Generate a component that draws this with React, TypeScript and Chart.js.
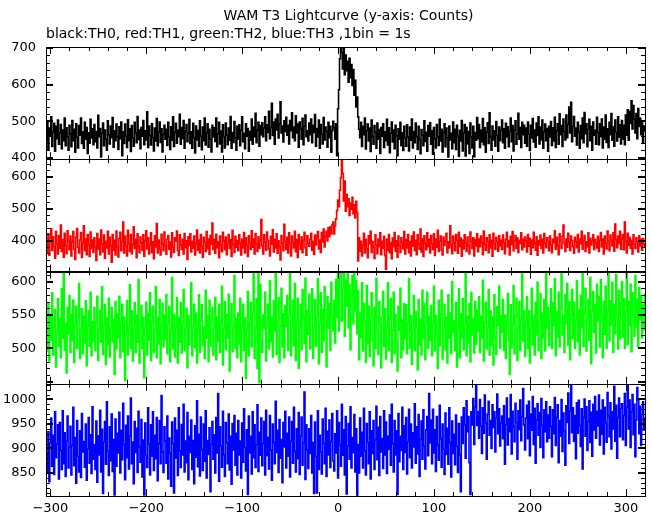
import React, { useEffect, useRef } from "react";
import { Chart, registerables } from "chart.js";

Chart.register(...registerables);

// ---- data (counts per 1 s bin) ----
const T0 = -304; // time of the first bin (s)
const BIN = 1; // bin width (s)
const X_MIN = -304.5;
const X_MAX = 320;

const TH0 = [
  448,497,423,481,459,512,431,470,494,418,486,452,503,437,468,491,425,476,447,509,433,482,458,421,489,
  466,430,502,447,478,415,493,456,427,488,462,509,439,471,426,497,451,483,412,468,440,505,454,479,436,
  491,444,472,427,516,458,480,402,467,495,433,476,450,421,501,463,438,487,455,510,429,474,447,492,458,
  423,485,452,498,406,471,439,492,460,428,504,447,479,417,488,455,432,497,468,441,513,450,476,425,483,
  459,502,436,474,449,526,428,487,461,435,493,455,419,481,446,507,433,470,498,442,479,416,464,489,451,
  478,434,497,457,423,485,448,512,431,469,494,440,476,458,519,437,483,452,502,426,474,491,444,467,505,
  439,471,426,494,455,413,487,449,475,432,501,460,422,484,447,509,435,468,493,429,478,451,416,489,457,
  482,445,509,430,466,497,438,473,416,490,458,427,495,462,436,481,448,513,426,469,442,499,455,421,486,
  451,490,433,476,512,444,467,425,493,459,480,418,472,448,506,437,484,458,522,441,475,497,432,488,463,
  496,458,481,512,447,490,469,527,452,483,549,461,498,437,506,476,519,454,492,553,468,487,443,501,472,
  511,462,489,438,502,474,523,455,484,447,515,468,492,429,498,479,451,508,436,487,517,458,474,446,495,
  463,506,441,489,469,518,432,480,457,503,426,491,465,438,510,449,484,472,429,497,455,486,415,474,500,
  482,451,493,406,534,586,671,702,688,643,699,627,681,638,664,607,672,619,655,598,641,571,612,539,566,
  512,478,455,497,431,486,463,509,424,474,492,446,481,417,503,458,437,488,469,426,495,451,477,412,483,
  459,493,428,471,447,505,435,482,414,467,498,443,476,425,489,460,406,479,451,497,433,468,420,486,455,
  432,490,457,419,484,448,506,427,472,441,495,458,423,486,450,411,477,462,433,501,445,470,418,488,459,
  496,437,474,410,483,452,427,491,458,434,505,446,478,416,469,493,430,481,455,402,487,449,467,425,498,
  441,478,423,489,460,404,475,446,502,419,468,491,405,483,438,472,412,495,457,427,486,403,469,448,510,
  452,491,428,476,443,507,436,482,415,470,496,439,523,458,421,487,449,474,432,499,461,418,484,447,476,
  503,441,479,426,494,457,485,430,472,509,444,488,419,476,501,437,466,522,451,483,428,497,463,489,440,
  481,432,498,465,420,489,454,507,443,476,429,495,461,512,438,484,449,503,426,471,492,447,480,418,486,
  457,499,434,482,446,511,428,474,493,437,520,463,488,431,506,472,449,517,455,491,539,468,552,444,486,
  513,459,481,435,497,470,426,488,452,509,441,524,466,493,430,478,505,447,486,421,498,462,475,437,511,
  469,436,493,458,506,427,484,451,517,442,479,428,497,463,521,448,485,432,503,470,446,512,457,490,438,
  502,451,489,436,517,462,531,448,527,494,556,479,543,507,468,521,452,535,486,509,463,498,440,487,474,
];

const TH1 = [
  397,362,421,354,408,437,369,412,381,345,428,390,358,415,376,449,366,403,348,423,384,359,431,398,371,
  414,352,396,428,373,341,411,438,379,361,402,425,347,393,446,369,405,356,419,387,350,427,375,402,363,
  409,381,338,422,374,405,356,433,389,364,417,345,398,377,429,358,410,384,332,419,370,401,355,430,380,
  349,406,426,368,397,458,361,414,383,352,432,391,366,419,359,388,443,375,404,346,421,381,362,411,393,
  370,418,351,399,431,374,409,358,387,424,363,396,343,415,380,453,361,402,372,355,420,390,368,427,383,
  357,404,416,373,395,349,424,381,363,409,398,430,369,353,418,387,372,404,358,422,378,399,341,412,385,
  421,364,398,376,414,355,391,433,370,402,361,419,382,348,410,394,366,428,374,405,357,416,389,455,372,
  404,360,420,378,396,346,414,385,365,426,399,371,411,356,394,419,375,403,350,432,388,363,413,379,400,
  368,418,392,355,404,377,425,361,409,386,350,415,394,372,431,379,405,358,422,388,366,412,376,401,466,
  383,358,418,395,370,427,401,374,352,413,389,434,364,404,377,421,360,399,381,339,416,392,368,451,397,
  372,410,361,424,389,352,414,394,377,429,365,403,347,419,390,373,411,362,400,426,378,354,415,391,382,
  404,423,370,398,357,417,386,410,428,374,402,363,425,396,436,380,413,429,399,440,412,443,421,449,458,
  421,447,468,494,527,506,558,598,653,611,524,587,492,545,506,531,479,518,498,536,484,512,471,523,488,
  336,409,367,398,352,384,423,361,404,375,346,415,390,429,363,397,379,344,418,386,359,405,381,424,356,
  398,376,413,353,310,404,369,419,362,394,343,408,381,425,367,399,348,414,385,363,409,395,374,428,358,
  403,377,419,362,397,352,414,383,427,369,401,356,418,388,373,436,364,405,350,415,392,371,424,381,404,
  361,416,391,372,421,353,405,379,432,366,398,414,370,355,411,385,399,423,362,396,377,446,388,359,414,
  393,368,419,401,360,426,381,408,351,402,374,418,392,366,411,384,358,427,398,375,409,352,403,383,421,
  365,405,381,414,393,356,430,387,370,409,398,362,418,377,401,351,423,390,372,410,396,367,415,383,402,
  372,417,393,359,404,426,380,400,355,413,387,428,368,399,416,376,408,363,401,391,424,371,404,380,411,
  398,364,419,382,407,357,402,378,426,392,370,412,354,400,386,417,375,404,361,422,393,378,409,397,368,
  414,386,362,404,393,431,373,410,384,356,421,398,375,413,449,391,366,405,379,423,395,369,414,400,381,
  360,410,397,378,419,364,404,390,429,373,401,416,366,396,380,424,361,407,386,399,418,372,404,392,377,
  413,366,401,425,380,405,358,414,391,374,430,397,368,417,400,383,424,367,452,403,378,414,391,429,373,
  406,419,371,458,397,361,423,385,410,376,401,358,418,389,375,409,396,364,415,383,404,370,406,390,379,
];

const TH2 = [
  534,496,568,481,549,512,583,490,531,558,472,527,574,503,545,486,589,515,614,497,538,463,561,522,579,
  494,551,511,572,479,536,563,500,546,597,485,527,559,492,548,508,571,474,533,556,503,584,489,540,511,
  561,497,540,578,482,528,557,509,592,491,535,566,476,546,505,575,487,530,561,510,543,461,570,499,552,
  516,578,486,539,566,495,547,452,521,571,490,533,595,500,556,481,529,568,494,550,509,603,478,536,564,
  500,547,456,533,569,490,553,512,583,482,540,563,494,528,592,486,546,507,573,477,535,567,502,550,513,
  580,492,538,562,480,527,606,499,551,487,531,576,478,546,509,568,493,537,588,497,529,560,471,549,505,
  541,598,489,533,566,501,553,478,527,580,494,541,565,504,532,485,587,515,549,480,572,503,538,561,490,
  530,576,483,547,510,566,494,537,593,475,529,570,498,551,515,581,466,540,567,495,531,609,500,545,486,
  553,507,575,480,533,566,497,546,455,527,585,489,538,569,502,553,613,485,531,574,470,614,448,596,513,
  494,550,530,584,481,538,566,499,601,510,547,487,571,526,614,491,541,576,479,533,590,502,552,486,564,
  532,579,497,550,614,489,530,572,504,597,482,543,575,470,531,566,498,588,545,507,605,480,556,521,581,
  499,552,589,485,533,573,503,546,604,477,538,583,494,558,511,592,545,472,577,530,567,497,599,549,526,
  571,508,603,546,614,526,607,615,541,590,613,518,602,563,614,531,596,498,580,609,537,614,556,601,522,
  586,483,553,516,598,496,567,540,479,594,507,563,488,546,583,513,474,561,500,605,527,491,570,536,471,
  548,585,503,559,484,530,598,497,545,574,479,528,584,492,551,509,466,563,527,590,486,543,498,567,514,
  565,492,538,604,500,549,476,527,579,497,555,530,468,573,505,544,490,587,516,567,483,536,584,500,548,
  512,564,489,537,593,496,549,521,470,572,504,551,587,484,530,566,498,547,478,580,515,553,492,600,524,
  541,497,569,472,528,589,486,552,516,574,498,536,614,489,548,508,567,480,584,520,545,493,570,506,557,
  526,577,494,548,515,602,481,539,569,499,531,588,490,556,505,547,475,580,518,491,562,534,593,500,549,
  524,573,497,550,485,541,582,513,461,565,501,537,594,492,548,575,482,530,570,497,544,614,511,556,488,
  537,577,500,556,478,532,590,505,548,490,569,520,599,497,538,582,485,553,516,573,496,612,531,561,504,
  549,589,500,568,534,604,489,555,517,584,502,561,614,520,549,494,580,537,597,505,570,483,550,588,515,
  569,500,543,601,510,558,490,579,532,614,503,552,590,496,545,573,512,606,477,556,585,524,566,493,596,
  541,578,502,603,549,486,570,521,593,500,558,614,511,571,535,599,494,565,522,610,546,499,587,514,568,
  600,517,574,500,555,614,506,570,534,596,495,583,549,518,609,532,574,502,591,543,579,516,566,528,581,
];

const TH3 = [
  889,851,934,832,911,962,864,927,847,975,881,909,948,838,953,896,857,977,869,932,843,915,966,860,903,
  945,846,906,984,865,922,829,957,884,852,936,841,971,893,914,862,950,835,899,963,870,928,849,985,878,
  908,857,956,831,926,887,978,852,939,808,913,955,868,995,894,845,944,875,970,853,918,805,960,864,931,
  891,974,850,937,877,992,908,836,947,881,966,858,925,1003,869,913,828,955,892,941,851,976,903,872,959,
  842,917,805,952,886,861,983,909,846,948,884,975,855,927,879,963,834,910,957,869,1008,893,851,944,915,
  870,966,838,921,890,823,954,910,809,962,880,937,845,983,895,861,949,887,990,852,915,871,973,836,925,
  892,958,857,916,828,946,882,997,863,929,844,964,898,855,950,874,977,840,916,888,942,812,908,955,878,
  928,850,963,891,1012,833,944,905,862,976,887,843,953,911,869,970,856,925,827,951,897,967,866,931,846,
  957,887,915,840,952,872,981,902,854,938,806,966,891,925,848,975,881,948,861,908,989,853,933,886,962,
  865,910,955,846,978,885,923,858,967,897,835,950,912,869,996,892,937,851,959,880,918,830,953,903,976,
  860,931,884,964,842,915,955,870,984,894,852,940,879,973,847,925,964,866,911,1015,837,948,897,859,940,
  890,967,850,912,808,954,884,809,977,857,927,893,848,960,910,869,982,843,935,887,958,861,914,971,875,
  854,930,891,977,840,953,908,864,990,886,938,846,965,807,906,951,878,985,860,922,892,969,852,940,805,
  908,850,962,884,933,860,982,895,846,951,912,869,975,838,936,890,957,857,917,986,877,943,845,965,893,
  920,859,977,887,954,849,925,898,968,866,990,910,852,957,887,936,806,971,873,925,896,984,857,946,892,
  963,848,914,980,881,950,860,932,903,991,870,944,889,969,843,919,956,878,979,905,858,938,965,885,1012,
  911,958,869,980,891,938,853,965,907,876,988,920,862,950,899,847,972,888,941,868,983,912,842,956,890,
  929,867,968,904,851,951,887,812,964,910,983,948,880,997,934,965,871,806,975,948,1002,908,984,1030,947,
  975,921,1000,946,890,983,931,1009,952,878,970,996,927,957,900,989,943,975,893,962,1011,930,981,905,952,
  966,920,987,868,949,1003,907,961,934,1010,889,976,945,914,992,953,878,977,939,999,916,965,1022,948,897,
  962,988,920,996,885,970,937,1006,908,982,870,958,991,927,973,902,1002,947,881,979,934,995,914,968,921,
  985,945,883,979,930,1004,906,963,989,871,957,925,1000,894,972,936,866,987,953,1013,910,976,1031,932,983,
  915,967,879,993,931,998,947,904,981,858,964,1001,925,985,896,955,997,912,974,884,990,938,1006,921,976,
  946,1009,907,978,929,999,889,984,952,913,1014,966,924,993,899,975,940,1027,915,988,880,963,1003,924,981,
  991,918,967,1012,906,984,1028,940,999,902,975,1010,928,990,883,958,1024,999,930,986,906,969,995,938,962,
];

const SERIES = [TH0, TH1, TH2, TH3];
const SERIES_NAMES = ["TH0", "TH1", "TH2", "TH3"];
const COLORS = ["#000000", "#ff0000", "#00ff00", "#0000ff"];
const PANEL_IDS = ["y0", "y1", "y2", "y3"];
const PANEL_MIN = [396, 303, 447, 803];
const PANEL_MAX = [703, 655, 615, 1032];
const Y_TICKS = [
  [400, 500, 600, 700],
  [400, 500, 600],
  [500, 550, 600],
  [850, 900, 950, 1000],
];
const Y_MAJOR = [100, 100, 50, 50];
const Y_MINOR = [20, 20, 10, 10];
const X_TICKS = [-300, -200, -100, 0, 100, 200, 300];
const X_MAJOR = 100;
const X_MINOR = 20;
const SEPARATOR_WIDTH = [1, 2, 1];

const TITLE = "WAM T3 Lightcurve (y-axis: Counts)";
const SUBTITLE = "black:TH0, red:TH1, green:TH2, blue:TH3 ,1bin = 1s";

const FONT_FAMILY = '"DejaVu Sans", Verdana, sans-serif';
const TICK_FONT = { family: FONT_FAMILY, size: 13 };

const fmt = (v: number) => (v < 0 ? "\u2212" + String(-v) : String(v));

const decorPlugin = {
  id: "decor",
  beforeDraw(chart: any) {
    const ctx = chart.ctx;
    ctx.save();
    ctx.fillStyle = "#ffffff";
    ctx.fillRect(0, 0, chart.width, chart.height);
    ctx.restore();
  },
  beforeDatasetDraw(chart: any, args: any) {
    const ds = chart.data.datasets[args.index];
    const ys = chart.scales[ds.yAxisID];
    const ca = chart.chartArea;
    const ctx = chart.ctx;
    ctx.save();
    ctx.beginPath();
    ctx.rect(ca.left, ys.top, ca.right - ca.left, ys.bottom - ys.top);
    ctx.clip();
  },
  afterDatasetDraw(chart: any) {
    chart.ctx.restore();
  },
  afterDraw(chart: any) {
    const ctx = chart.ctx;
    const ca = chart.chartArea;
    const xs = chart.scales.x;
    ctx.save();
    ctx.strokeStyle = "#000000";
    const seg = (x1: number, y1: number, x2: number, y2: number, w: number) => {
      ctx.lineWidth = w;
      ctx.beginPath();
      ctx.moveTo(x1, y1);
      ctx.lineTo(x2, y2);
      ctx.stroke();
    };
    PANEL_IDS.forEach((id, p) => {
      const ys = chart.scales[id];
      const top = ys.top;
      const bot = ys.bottom;
      // x ticks (inside, top and bottom of each panel)
      for (let v = Math.ceil(X_MIN / X_MINOR) * X_MINOR; v <= X_MAX; v += X_MINOR) {
        const px = Math.round(xs.getPixelForValue(v)) + 0.5;
        const major = v % X_MAJOR === 0;
        const len = major ? 7 : 4;
        seg(px, top, px, top + len, 1);
        seg(px, bot, px, bot - len, 1);
      }
      // y ticks (inside, left and right)
      const step = Y_MINOR[p];
      for (let v = Math.ceil(ys.min / step) * step; v <= ys.max; v += step) {
        const major = v % Y_MAJOR[p] === 0;
        const w = major ? 2 : 1;
        const py = major ? Math.round(ys.getPixelForValue(v)) : Math.round(ys.getPixelForValue(v)) + 0.5;
        const len = major ? 7 : 4;
        seg(ca.left, py, ca.left + len, py, w);
        seg(ca.right, py, ca.right - len, py, w);
      }
    });
    // panel separators
    for (let p = 0; p < 3; p++) {
      const ys = chart.scales[PANEL_IDS[p]];
      const w = SEPARATOR_WIDTH[p];
      const y = w % 2 ? Math.round(ys.bottom) + 0.5 : Math.round(ys.bottom);
      seg(ca.left, y, ca.right, y, w);
    }
    // outer frame
    ctx.lineWidth = 1;
    ctx.strokeRect(
      Math.round(ca.left) + 0.5,
      Math.round(ca.top) + 0.5,
      Math.round(ca.right) - Math.round(ca.left),
      Math.round(ca.bottom) - Math.round(ca.top)
    );
    // title + subtitle
    ctx.fillStyle = "#000000";
    ctx.font = `14px ${FONT_FAMILY}`;
    ctx.textBaseline = "alphabetic";
    ctx.textAlign = "center";
    ctx.fillText(TITLE, (ca.left + ca.right) / 2 + 3, 20);
    ctx.textAlign = "left";
    ctx.fillText(SUBTITLE, ca.left, 38);
    ctx.restore();
  },
};

function buildScales() {
  const scales: any = {
    x: {
      type: "linear",
      position: "bottom",
      min: X_MIN,
      max: X_MAX,
      grid: { display: false, drawTicks: false },
      border: { display: false },
      ticks: {
        font: TICK_FONT,
        color: "#000000",
        padding: 5,
        autoSkip: false,
        maxRotation: 0,
        callback: (v: number) => fmt(v),
      },
      afterBuildTicks: (s: any) => {
        s.ticks = X_TICKS.map((v) => ({ value: v }));
      },
      afterFit: (s: any) => {
        s.height = 19;
      },
    },
  };
  PANEL_IDS.forEach((id, p) => {
    scales[id] = {
      type: "linear",
      position: "left",
      stack: "panels",
      stackWeight: 1,
      weight: 4 - p,
      offset: false,
      min: PANEL_MIN[p],
      max: PANEL_MAX[p],
      grid: { display: false, drawTicks: false },
      border: { display: false },
      ticks: {
        font: TICK_FONT,
        color: "#000000",
        padding: 10,
        autoSkip: false,
        callback: (v: number) => fmt(v),
      },
      afterBuildTicks: (s: any) => {
        s.ticks = Y_TICKS[p].map((v) => ({ value: v }));
      },
      afterFit: (s: any) => {
        s.width = 46;
      },
    };
  });
  return scales;
}

export default function App() {
  const ref = useRef<HTMLCanvasElement | null>(null);
  useEffect(() => {
    if (!ref.current) return;
    const datasets = SERIES.map((vals, k) => ({
      label: SERIES_NAMES[k],
      data: vals.map((v, i) => ({ x: T0 + i * BIN, y: v })),
      yAxisID: PANEL_IDS[k],
      xAxisID: "x",
      borderColor: COLORS[k],
      backgroundColor: COLORS[k],
      borderWidth: 1.6,
      pointRadius: 0,
      stepped: "middle",
      fill: false,
      tension: 0,
    }));
    const chart = new Chart(ref.current, {
      type: "line",
      data: { datasets: datasets as any },
      options: {
        responsive: false,
        animation: false,
        devicePixelRatio: 1,
        layout: { padding: { top: 47, right: 7, left: 0, bottom: 0 } },
        plugins: {
          legend: { display: false },
          tooltip: { enabled: false },
          title: { display: false },
        },
        events: [],
        scales: buildScales(),
      } as any,
      plugins: [decorPlugin],
    });
    return () => chart.destroy();
  }, []);
  return (
    <div
      style={{
        position: "absolute",
        left: 0,
        top: 0,
        width: 652,
        height: 515,
        background: "#ffffff",
      }}
    >
      <canvas ref={ref} width={652} height={515} style={{ width: 652, height: 515 }} />
    </div>
  );
}
